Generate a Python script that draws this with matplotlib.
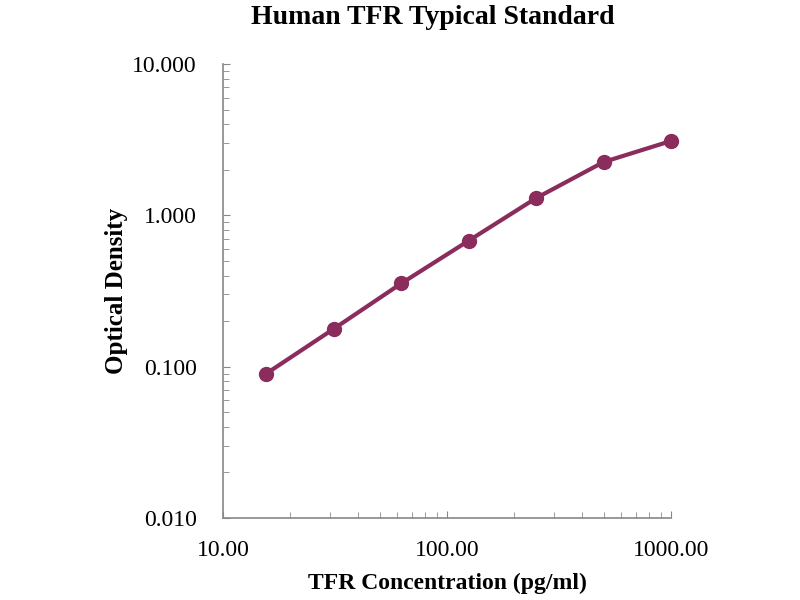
import numpy as np
import matplotlib.pyplot as plt
from matplotlib.ticker import FixedLocator, FixedFormatter, LogLocator, NullFormatter

plt.rcParams['font.family'] = ['Liberation Serif', 'DejaVu Serif']

conc = [15.6, 31.25, 62.5, 125, 250, 500, 1000]
od = [0.090, 0.178, 0.355, 0.68, 1.30, 2.25, 3.10]

x_ticks = [10, 100, 1000]
x_labels = ['10.00', '100.00', '1000.00']
y_ticks = [0.01, 0.1, 1, 10]
y_labels = ['0.010', '0.100', '1.000', '10.000']

color = '#8a2c5c'

fig = plt.figure(figsize=(8, 6), dpi=100)
ax = fig.add_axes([223 / 800, 1 - 518 / 600, 448 / 800, 454 / 600])

ax.plot(conc, od, color=color, linewidth=3, marker='o', markersize=10,
        markerfacecolor=color, markeredgecolor=color, clip_on=False)

ax.set_xscale('log')
ax.set_yscale('log')
ax.set_xlim(10, 1000)
ax.set_ylim(0.01, 10)

ax.xaxis.set_major_locator(FixedLocator(x_ticks))
ax.xaxis.set_major_formatter(FixedFormatter(x_labels))
ax.yaxis.set_major_locator(FixedLocator(y_ticks))
ax.yaxis.set_major_formatter(FixedFormatter(y_labels))
ax.xaxis.set_minor_locator(LogLocator(base=10, subs=np.arange(2, 10)))
ax.yaxis.set_minor_locator(LogLocator(base=10, subs=np.arange(2, 10)))
ax.xaxis.set_minor_formatter(NullFormatter())
ax.yaxis.set_minor_formatter(NullFormatter())

for side in ['top', 'right']:
    ax.spines[side].set_visible(False)
for side in ['left', 'bottom']:
    ax.spines[side].set_color('#888888')
    ax.spines[side].set_linewidth(1.2)

ax.tick_params(which='major', direction='in', length=5, color='#888888',
               labelsize=17)
ax.tick_params(which='minor', direction='in', length=4, color='#888888')
ax.tick_params(axis='x', pad=16)
ax.tick_params(axis='y', pad=19)

fig.text(433 / 800, 1 - 18 / 600, 'Human TFR Typical Standard', ha='center',
         va='center', fontsize=20, fontweight='bold')
ax.set_xlabel('TFR Concentration (pg/ml)', fontsize=17, fontweight='bold',
              labelpad=8)
ax.set_ylabel('Optical Density', fontsize=18, fontweight='bold', labelpad=3)

fig.savefig('out.png', dpi=100)
